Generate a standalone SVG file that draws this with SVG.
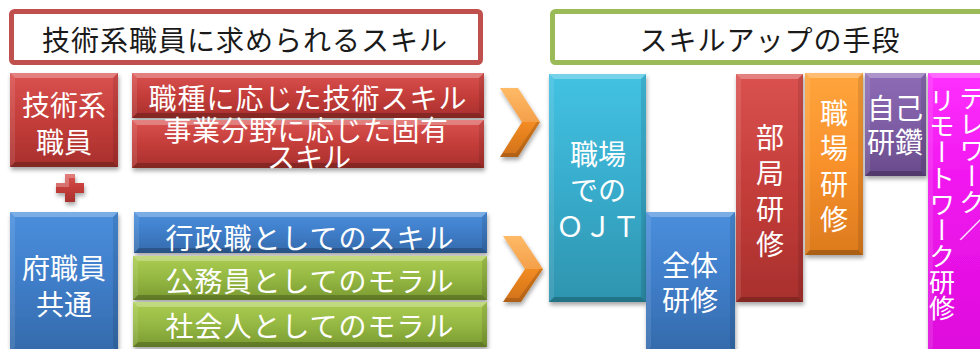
<svg xmlns="http://www.w3.org/2000/svg" width="980" height="349" viewBox="0 0 980 349">
<defs>
<style>
.t{font-family:"Noto Sans CJK JP","Noto Sans CJK SC",sans-serif;font-size:28px;fill:#ffffff;text-anchor:middle}
.ttl{font-family:"Noto Sans CJK JP","Noto Sans CJK SC",sans-serif;font-size:28px;fill:#1a1a1a;text-anchor:middle;letter-spacing:1px}
.v{font-family:"Noto Sans CJK JP","Noto Sans CJK SC",sans-serif;font-size:26px;fill:#ffffff;writing-mode:vertical-rl}
.bt{fill:#ffffff;fill-opacity:.28}
.bl{fill:#ffffff;fill-opacity:.1}
.br{fill:#000000;fill-opacity:.1}
.bb{fill:#000000;fill-opacity:.22}
</style>
<filter id="sh" x="-20%" y="-20%" width="140%" height="140%">
<feDropShadow dx="1" dy="3" stdDeviation="2" flood-color="#000" flood-opacity=".35"/>
</filter>
<linearGradient id="gR" x1="0" y1="0" x2="0" y2="1"><stop offset="0" stop-color="#da5250"/><stop offset=".5" stop-color="#c43d3a"/><stop offset="1" stop-color="#a8302d"/></linearGradient>
<linearGradient id="gB" x1="0" y1="0" x2="0" y2="1"><stop offset="0" stop-color="#4a8fdd"/><stop offset=".5" stop-color="#3f7dc8"/><stop offset="1" stop-color="#346aab"/></linearGradient>
<linearGradient id="gG" x1="0" y1="0" x2="0" y2="1"><stop offset="0" stop-color="#abcd50"/><stop offset=".5" stop-color="#95b843"/><stop offset="1" stop-color="#7a9a30"/></linearGradient>
<linearGradient id="gC" x1="0" y1="0" x2="0" y2="1"><stop offset="0" stop-color="#43c2e2"/><stop offset=".5" stop-color="#38accc"/><stop offset="1" stop-color="#2e94ae"/></linearGradient>
<linearGradient id="gO" x1="0" y1="0" x2="0" y2="1"><stop offset="0" stop-color="#ffa53c"/><stop offset=".5" stop-color="#f8912b"/><stop offset="1" stop-color="#dc7a1d"/></linearGradient>
<linearGradient id="gP" x1="0" y1="0" x2="0" y2="1"><stop offset="0" stop-color="#8e6cb6"/><stop offset=".5" stop-color="#7e5da4"/><stop offset="1" stop-color="#694b8b"/></linearGradient>
<linearGradient id="gM" x1="0" y1="0" x2="0" y2="1"><stop offset="0" stop-color="#ff30ff"/><stop offset=".4" stop-color="#f016ee"/><stop offset="1" stop-color="#de0cdc"/></linearGradient>
<linearGradient id="gCh" x1="0" y1="0" x2="0" y2="1"><stop offset="0" stop-color="#ffab45"/><stop offset=".5" stop-color="#f28b22"/><stop offset="1" stop-color="#d0711a"/></linearGradient>
</defs>
<rect width="980" height="349" fill="#ffffff"/>

<g id="title-left">
<rect x="11.5" y="11.5" width="469" height="51" rx="3" fill="#ffffff" stroke="#c0504d" stroke-width="5"/>
<text class="ttl" x="245" y="51">技術系職員に求められるスキル</text>
</g>
<g id="title-right">
<rect x="552.5" y="11.5" width="440" height="51" rx="3" fill="#ffffff" stroke="#9bbb59" stroke-width="5"/>
<text class="ttl" x="770" y="51">スキルアップの手段</text>
</g>

<g id="n-gijutsu">
<rect x="10" y="73" width="108" height="94" fill="url(#gR)" filter="url(#sh)"/>
<path class="bt" d="M10,73 h108 l-5,5 h-98 z"/><path class="bb" d="M10,167 h108 l-5,-5 h-98 z"/><path class="bl" d="M10,73 v94 l5,-5 v-84 z"/><path class="br" d="M118,73 v94 l-5,-5 v-84 z"/>
<text class="t" x="64" y="116">技術系</text>
<text class="t" x="64" y="153">職員</text>
</g>
<g id="n-shokushu">
<rect x="132" y="73" width="352" height="45" fill="url(#gR)" filter="url(#sh)"/>
<path class="bt" d="M132,73 h352 l-5,5 h-342 z"/><path class="bb" d="M132,118 h352 l-5,-5 h-342 z"/><path class="bl" d="M132,73 v45 l5,-5 v-35 z"/><path class="br" d="M484,73 v45 l-5,-5 v-35 z"/>
<text class="t" x="308" y="109" letter-spacing="1">職種に応じた技術スキル</text>
</g>
<g id="n-jigyo">
<rect x="132" y="120" width="352" height="48" fill="url(#gR)" filter="url(#sh)"/>
<path class="bt" d="M132,120 h352 l-5,5 h-342 z"/><path class="bb" d="M132,168 h352 l-5,-5 h-342 z"/><path class="bl" d="M132,120 v48 l5,-5 v-38 z"/><path class="br" d="M484,120 v48 l-5,-5 v-38 z"/>
<text class="t" x="306" y="141" letter-spacing="0.5">事業分野に応じた固有</text>
<text class="t" x="309" y="168">スキル</text>
</g>

<g id="n-fu">
<rect x="10" y="212" width="108" height="140" fill="url(#gB)" filter="url(#sh)"/>
<path class="bt" d="M10,212 h108 l-5,5 h-98 z"/><path class="bl" d="M10,212 v140 l5,-5 v-130 z"/><path class="br" d="M118,212 v140 l-5,-5 v-130 z"/>
<text class="t" x="64" y="279">府職員</text>
<text class="t" x="64" y="315">共通</text>
</g>
<g id="n-gyosei">
<rect x="134" y="212" width="353" height="41" fill="url(#gB)" filter="url(#sh)"/>
<path class="bt" d="M134,212 h353 l-5,5 h-343 z"/><path class="bb" d="M134,253 h353 l-5,-5 h-343 z"/><path class="bl" d="M134,212 v41 l5,-5 v-31 z"/><path class="br" d="M487,212 v41 l-5,-5 v-31 z"/>
<text class="t" x="310" y="249" letter-spacing="1">行政職としてのスキル</text>
</g>
<g id="n-komuin">
<rect x="133" y="256" width="354" height="44" fill="url(#gG)" filter="url(#sh)"/>
<path class="bt" d="M133,256 h354 l-5,5 h-344 z"/><path class="bb" d="M133,300 h354 l-5,-5 h-344 z"/><path class="bl" d="M133,256 v44 l5,-5 v-34 z"/><path class="br" d="M487,256 v44 l-5,-5 v-34 z"/>
<text class="t" x="310" y="292" letter-spacing="1">公務員としてのモラル</text>
</g>
<g id="n-shakai">
<rect x="133" y="302" width="354" height="45" fill="url(#gG)" filter="url(#sh)"/>
<path class="bt" d="M133,302 h354 l-5,5 h-344 z"/><path class="bb" d="M133,347 h354 l-5,-5 h-344 z"/><path class="bl" d="M133,302 v45 l5,-5 v-35 z"/><path class="br" d="M487,302 v45 l-5,-5 v-35 z"/>
<text class="t" x="310" y="337" letter-spacing="1">社会人としてのモラル</text>
</g>

<g id="n-ojt">
<rect x="549" y="74" width="97" height="228" fill="url(#gC)" filter="url(#sh)"/>
<path class="bt" d="M549,74 h97 l-5,5 h-87 z"/><path class="bb" d="M549,302 h97 l-5,-5 h-87 z"/><path class="bl" d="M549,74 v228 l5,-5 v-218 z"/><path class="br" d="M646,74 v228 l-5,-5 v-218 z"/>
<text class="t" x="598" y="165">職場</text>
<text class="t" x="598" y="201">での</text>
<text class="t" x="598" y="237">ＯＪＴ</text>
</g>
<g id="n-zentai">
<rect x="646" y="212" width="89" height="140" fill="url(#gB)" filter="url(#sh)"/>
<path class="bt" d="M646,212 h89 l-5,5 h-79 z"/><path class="bl" d="M646,212 v140 l5,-5 v-130 z"/><path class="br" d="M735,212 v140 l-5,-5 v-130 z"/>
<text class="t" x="690" y="276">全体</text>
<text class="t" x="690" y="311">研修</text>
</g>
<g id="n-bukyoku">
<rect x="736" y="74" width="67" height="228" fill="url(#gR)" filter="url(#sh)"/>
<path class="bt" d="M736,74 h67 l-5,5 h-57 z"/><path class="bb" d="M736,302 h67 l-5,-5 h-57 z"/><path class="bl" d="M736,74 v228 l5,-5 v-218 z"/><path class="br" d="M803,74 v228 l-5,-5 v-218 z"/>
<text class="t" x="770" y="148">部</text>
<text class="t" x="770" y="184">局</text>
<text class="t" x="770" y="220">研</text>
<text class="t" x="770" y="255">修</text>
</g>
<g id="n-shokuba">
<rect x="805" y="73" width="58" height="182" fill="url(#gO)" filter="url(#sh)"/>
<path class="bt" d="M805,73 h58 l-5,5 h-48 z"/><path class="bb" d="M805,255 h58 l-5,-5 h-48 z"/><path class="bl" d="M805,73 v182 l5,-5 v-172 z"/><path class="br" d="M863,73 v182 l-5,-5 v-172 z"/>
<text class="t" x="834" y="124">職</text>
<text class="t" x="834" y="159">場</text>
<text class="t" x="834" y="195">研</text>
<text class="t" x="834" y="230">修</text>
</g>
<g id="n-jiko">
<rect x="865" y="73" width="61" height="103" fill="url(#gP)" filter="url(#sh)"/>
<path class="bt" d="M865,73 h61 l-5,5 h-51 z"/><path class="bb" d="M865,176 h61 l-5,-5 h-51 z"/><path class="bl" d="M865,73 v103 l5,-5 v-93 z"/><path class="br" d="M926,73 v103 l-5,-5 v-93 z"/>
<text class="t" x="895" y="119">自己</text>
<text class="t" x="895" y="153">研鑽</text>
</g>
<g id="n-telework">
<rect x="928" y="73" width="62" height="279" fill="url(#gM)" filter="url(#sh)"/>
<path class="bt" d="M928,73 h62 l-5,5 h-52 z"/><path class="bl" d="M928,73 v279 l5,-5 v-269 z"/>
<text class="v" x="972" y="85">テレワーク／</text>
<text class="v" x="942" y="87">リモートワーク研修</text>
</g>

<g id="connectors">
<g filter="url(#sh)">
<path d="M56,183 h9 v-9 h10 v9 h9 v10 h-9 v9 h-10 v-9 h-9 z" fill="url(#gR)"/>
<path d="M500,88 L518,88 L540,122 L518,157 L500,157 L522,122 Z" fill="url(#gCh)"/>
<path d="M503,236 L521,236 L543,269 L521,302 L503,302 L525,269 Z" fill="url(#gCh)"/>
</g>
<path d="M56,183 h9 v-9 h10 v4 h-6 v9 h-13 z" fill="#fff" fill-opacity=".25"/>
<path d="M500,88 L518,88 L540,122 L522,122 Z" fill="#fff" fill-opacity=".18"/>
<path d="M503,236 L521,236 L543,269 L525,269 Z" fill="#fff" fill-opacity=".18"/>
<path d="M518,157 L540,122 L537,122 L516,153 L503,153 L500,157 Z" fill="#000" fill-opacity=".15"/>
<path d="M521,302 L543,269 L540,269 L519,298 L506,298 L503,302 Z" fill="#000" fill-opacity=".15"/>
</g>
</svg>
